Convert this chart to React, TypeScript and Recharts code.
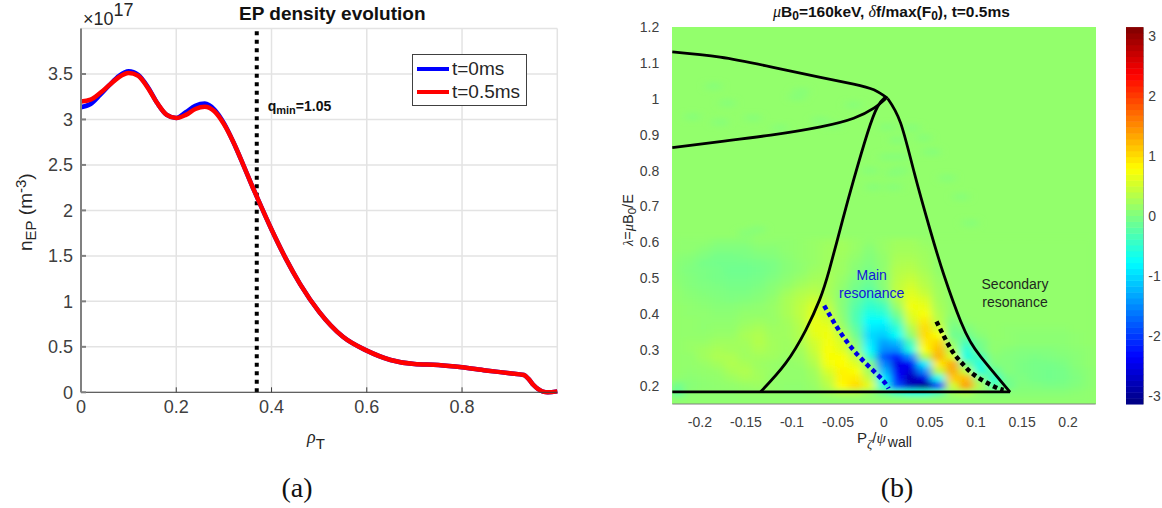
import React from 'react'
import {
  LineChart, Line, ScatterChart, Scatter, XAxis, YAxis, CartesianGrid, Legend,
} from 'recharts'

// panel (a): EP density profile, units of 1e17 m^-3
const rhoT = [0, .02, .04, .06, .08, .1, .12, .14, .16, .18, .2, .22, .24, .26, .28, .3, .32, .34, .36, .37, .4, .43, .46, .5, .55, .6, .65, .7, .75, .8, .85, .9, .93, .94, .95, .96, .97, .98, 1]
const densT0 = [3.135, 3.17, 3.27, 3.38, 3.48, 3.53, 3.49, 3.36, 3.18, 3.05, 3.015, 3.08, 3.15, 3.175, 3.11, 2.96, 2.75, 2.51, 2.26, 2.14, 1.79, 1.47, 1.19, .885, .61, .458, .355, .31, .3, .275, .24, .21, .19, .145, .08, .035, .007, 0, .01]
const densT05 = [3.197, 3.217, 3.29, 3.38, 3.467, 3.51, 3.48, 3.35, 3.18, 3.05, 3.015, 3.05, 3.115, 3.14, 3.09, 2.95, 2.75, 2.51, 2.26, 2.14, 1.79, 1.47, 1.19, .885, .61, .458, .355, .31, .3, .275, .24, .21, .19, .145, .08, .035, .007, 0, .01]
const qminRho = [.369, .369]
const qminDens = [0, 4]
const densXTicks = [0, .2, .4, .6, .8]
const densYTicks = [0, .5, 1, 1.5, 2, 2.5, 3, 3.5]
const legendNames = ['t=0ms', 't=0.5ms']

// panel (b): delta f map, rows top to bottom, lower part of the plane
const heatXs = [-.225, -.21, -.195, -.18, -.165, -.15, -.135, -.12, -.105, -.09, -.075, -.06, -.045, -.03, -.015, 0, .015, .03, .045, .06, .075, .09, .105, .12, .135, .15, .165, .18, .195, .21, .225]
const heatYs = [.6, .58, .56, .54, .52, .5, .48, .46, .44, .42, .4, .38, .36, .34, .32, .3, .28, .26, .24, .22, .2, .18, .16]
const heatRows = [
  [.1, .1, .1, .05, .05, .05, .1, .1, .1, .12, .15, .18, .2, .15, .1, .15, .2, .2, .15, .12, .12, .12, .12, .12, .12, .12, .12, .12, .12, .12, .12],
  [.1, .1, .05, 0, 0, 0, .05, .05, .1, .12, .15, .2, .22, .15, .05, .15, .22, .22, .18, .12, .12, .12, .12, .12, .12, .12, .12, .12, .12, .12, .12],
  [.08, .05, 0, -.05, -.05, -.03, 0, .03, .08, .12, .15, .2, .2, .12, .02, .12, .25, .25, .2, .12, .12, .12, .12, .12, .12, .12, .12, .12, .12, .12, .12],
  [.05, .02, -.05, -.08, -.08, -.08, -.05, -.03, .05, .1, .15, .2, .18, .08, 0, .1, .28, .3, .22, .12, .12, .12, .12, .12, .12, .12, .12, .12, .12, .12, .12],
  [.05, 0, -.03, -.05, -.1, -.1, -.08, -.03, .05, .1, .18, .22, .18, .05, -.05, .1, .32, .35, .25, .12, .12, .12, .12, .12, .12, .12, .12, .12, .12, .12, .12],
  [.06, .02, -.02, -.05, -.08, -.08, -.05, 0, .08, .15, .22, .25, .15, 0, -.1, .05, .35, .42, .3, .15, .12, .12, .12, .12, .12, .12, .12, .12, .12, .12, .12],
  [.08, .03, 0, -.02, -.05, -.05, -.02, .05, .12, .22, .28, .25, .12, -.05, -.15, .05, .38, .5, .35, .18, .12, .12, .12, .12, .12, .12, .12, .12, .12, .12, .12],
  [.1, .05, .02, 0, -.02, -.02, .02, .08, .2, .3, .35, .25, .08, -.1, -.25, 0, .38, .58, .42, .2, .12, .12, .12, .12, .12, .12, .12, .12, .12, .12, .12],
  [.1, .08, .05, .02, 0, .02, .05, .12, .25, .35, .45, .3, .05, -.18, -.38, -.2, .3, .65, .55, .22, .12, .12, .12, .12, .12, .12, .12, .12, .12, .12, .12],
  [.12, .1, .08, .05, .05, .08, .1, .15, .25, .38, .55, .38, .05, -.25, -.5, -.4, .15, .7, .65, .25, .12, .12, .12, .12, .12, .12, .12, .12, .12, .12, .12],
  [.12, .1, .1, .08, .08, .12, .12, .15, .25, .38, .6, .45, .08, -.3, -.65, -.55, -.05, .6, .75, .3, .1, .12, .12, .12, .12, .12, .12, .12, .12, .12, .12],
  [.12, .12, .1, .1, .1, .15, .18, .15, .22, .35, .65, .55, .12, -.3, -.8, -.8, -.3, .5, .9, .35, .02, .1, .12, .12, .12, .12, .12, .12, .12, .12, .12],
  [.12, .12, .1, .12, .12, .2, .25, .18, .2, .32, .65, .65, .2, -.2, -.9, -.95, -.55, .3, 1, .5, -.05, 0, .1, .12, .1, .1, .1, .1, .1, .12, .12],
  [.12, .12, .12, .15, .15, .25, .3, .2, .2, .3, .6, .7, .4, -.1, -1, -1.1, -.75, .1, 1, .75, -.1, -.1, .05, .12, .1, .08, .08, .08, .08, .1, .12],
  [.12, .15, .15, .2, .2, .22, .32, .22, .18, .28, .5, .72, .55, .05, -.9, -1.35, -1.2, -.35, .9, 1.05, .1, -.35, -.05, .1, .1, .08, .08, .08, .08, .1, .12],
  [.12, .15, .2, .25, .22, .2, .28, .22, .18, .22, .45, .75, .6, .15, -.8, -1.5, -1.5, -.6, .75, 1.2, .3, -.55, -.1, .1, .05, .03, .03, .03, .05, .08, .1],
  [.12, .12, .2, .28, .28, .2, .22, .2, .15, .18, .38, .75, .75, .4, -.5, -1.8, -2.2, -1.5, .3, 1.25, .55, -.6, -.35, .05, .03, 0, -.02, 0, .02, .06, .1],
  [.12, .12, .15, .22, .3, .25, .18, .15, .12, .15, .3, .7, .8, .6, .05, -1.5, -2.5, -2.4, -.9, .9, 1.3, -.1, -.6, 0, .03, -.02, -.05, -.05, -.02, .05, .1],
  [.12, .1, .12, .15, .25, .3, .2, .15, .12, .12, .22, .55, .85, .75, .2, -1.2, -2.4, -2.6, -1.5, .4, 1.3, .4, -.55, -.2, .03, -.02, -.05, -.08, -.05, .02, .08],
  [.1, .08, .1, .12, .18, .25, .22, .12, .12, .12, .18, .42, .85, .9, .4, -.9, -2.2, -2.8, -2.5, -.7, 1.1, 1.2, 0, -.5, -.05, 0, -.05, -.08, -.05, 0, .08],
  [-.1, .05, .08, .1, .12, .15, .18, .12, .1, .1, .15, .35, .8, 1, .6, -.6, -1.9, -2.8, -3.1, -2, .5, 1.4, .3, -.3, -.1, .02, 0, -.03, -.02, .02, .08],
  [-.2, .08, .1, .1, .1, .12, .12, .12, .1, .1, .12, .2, .3, .3, .15, -.1, -.4, -.6, -.6, -.3, .2, .3, .1, .05, .05, .05, .05, .05, .05, .08, .1],
  [.08, .1, .1, .1, .1, .1, .1, .1, .1, .1, .1, .1, .1, .1, .1, .1, .1, .1, .1, .1, .1, .1, .1, .1, .1, .1, .1, .1, .1, .1, .1],
]
// faint streaks in the upper part of the plane
const streakXs = [-.185, -.094, -.09, -.17, -.208, -.178, -.142, -.113, -.033, -.069, -.055, .004, .029, .05, .011, -.015, .018, -.137, -.149, -.011, .015, .004, .018, .011, .053, .069, .084, .094, .031, .043]
const streakYs = [1.035, 1.005, 1.02, .988, .95, .935, .946, .919, .983, .94, .927, .921, .919, .852, .793, .8, .838, .635, .626, .754, .885, .838, .801, .754, .852, .779, .727, .654, .919, .891]
const streakV = .05

const upperX = [-.23, -.178, -.123, -.069, -.033, -.011, .004]
const upperY = [1.131, 1.116, 1.089, 1.06, 1.041, 1.025, 1.001]
const lowerX = [-.23, -.178, -.123, -.069, -.033, -.011, .002]
const lowerY = [.864, .881, .899, .922, .946, .974, 1.001]
const leftBranchX = [-.134, -.107, -.085, -.07, -.0595, -.045, -.033, -.018, -.007, .002]
const leftBranchY = [.184, .263, .356, .44, .523, .662, .774, .904, .978, 1.006]
const rightBranchX = [.004, .018, .033, .05, .065, .0835, .094, .105, .137]
const rightBranchY = [1.001, .933, .793, .636, .51, .379, .323, .282, .183]
const floorX = [-.23, .137]
const floorY = [.184, .184]
const mainResX = [-.065, -.036, -.005, .005]
const mainResY = [.424, .309, .226, .193]
const secResX = [.057, .073, .085, .098, .12, .13]
const secResY = [.38, .302, .263, .231, .198, .189]

const mapXTicks = [-.2, -.15, -.1, -.05, 0, .05, .1, .15, .2]
const mapYTicks = [.2, .3, .4, .5, .6, .7, .8, .9, 1, 1.1, 1.2]
const cbarTicks = [-3, -2, -1, 0, 1, 2, 3]
const cbarMax = 3.14
const cbarSteps = 64

const zip = (xs: number[], ys: number[]) => xs.map((x, i) => ({ x, y: ys[i] }))
const channel = (t: number) => Math.round(255 * Math.max(0, Math.min(1, 1.5 - Math.abs(4 * t))))
// jet colormap
const jet = (v: number) => {
  const t = (v + cbarMax) / (2 * cbarMax)
  return `rgb(${channel(t - .75)},${channel(t - .5)},${channel(t - .25)})`
}

const heatCells = [
  ...heatRows.flatMap((row, i) => row.map((v, j) => ({ x: heatXs[j], y: heatYs[i], v }))),
  ...streakXs.map((x, i) => ({ x, y: streakYs[i], v: streakV })),
]
const densT0Data = zip(rhoT, densT0)
const densT05Data = zip(rhoT, densT05)
const cbarStep = (2 * cbarMax) / cbarSteps
const cbarCells = Array.from({ length: cbarSteps }, (_, i) => {
  const y = -cbarMax + (i + .5) * cbarStep
  return { x: .5, y, v: y }
})

const SANS = 'Helvetica, "Liberation Sans", Arial, sans-serif'
const SERIF = '"Liberation Serif", serif'
const TICK = '#404040'
const MAP = { left: 672.3, top: 27, width: 423.4, height: 377 }
const cellW = (.015 / .46) * MAP.width + 1
const cellH = (.02 / 1.05) * MAP.height + 1
const CBAR = { width: 17.3, height: 377 }

const layer: React.CSSProperties = { position: 'absolute', left: 0, top: 0 }
const noLabel = () => ''

function HeatCell(props: any) {
  const { cx, cy, payload } = props
  return <rect x={cx - cellW / 2} y={cy - cellH / 2} width={cellW} height={cellH} fill={jet(payload.v)} />
}

function BandCell(props: any) {
  const { cx, cy, payload } = props
  const h = CBAR.height / cbarSteps + .5
  return <rect x={cx - CBAR.width / 2} y={cy - h / 2} width={CBAR.width} height={h} fill={jet(payload.v)} />
}

function DensityLegend({ payload }: any) {
  const items = legendNames.map((n) => payload.find((p: any) => p.value === n)).filter(Boolean)
  return (
    <div style={{ boxSizing: 'border-box', width: 115, height: 52, border: '1px solid #404040', background: '#fff', padding: '3px 4px' }}>
      {items.map((p: any) => (
        <div key={p.value} style={{ display: 'flex', alignItems: 'center', height: 22.5, fontFamily: SANS, fontSize: 19, color: '#262626' }}>
          <span style={{ display: 'inline-block', width: 32, height: 4, background: p.color, marginRight: 3 }} />
          {p.value}
        </div>
      ))}
    </div>
  )
}

function DensityPanel() {
  return (
    <div style={layer}>
      <LineChart width={1162} height={508} margin={{ left: 0, top: 28.5, right: 604.7, bottom: 75.7 }}>
        <CartesianGrid stroke="#e3e3e3" strokeWidth={1.5} />
        <XAxis dataKey="x" type="number" domain={[0, 1]} ticks={densXTicks} interval={0} height={40} tickSize={-5} tickMargin={13}
          stroke="#404040" tick={{ fill: TICK, fontSize: 18, fontFamily: SANS }} />
        <XAxis xAxisId="top" dataKey="x" type="number" domain={[0, 1]} ticks={densXTicks} interval={0} orientation="top" height={0} tickSize={-5}
          stroke="#404040" tickFormatter={noLabel} />
        <YAxis dataKey="y" type="number" domain={[0, 4]} ticks={densYTicks} interval={0} width={81} tickSize={-5} tickMargin={13}
          stroke="#808080" strokeWidth={2} tick={{ fill: TICK, fontSize: 18, fontFamily: SANS }} />
        <YAxis yAxisId="right" dataKey="y" type="number" domain={[0, 4]} ticks={densYTicks} interval={0} orientation="right" width={0} tickSize={-5}
          stroke="#606060" tickFormatter={noLabel} />
        <Line xAxisId="top" yAxisId="right" data={densT05Data} dataKey="y" stroke="none" dot={false} isAnimationActive={false} legendType="none" />
        <Line data={zip(qminRho, qminDens)} dataKey="y" stroke="#000" strokeWidth={4} strokeDasharray="4 4.5" dot={false} isAnimationActive={false} legendType="none" />
        <Line data={densT0Data} dataKey="y" name="t=0ms" type="monotone" stroke="#0000ff" strokeWidth={4.5} dot={false} isAnimationActive={false} />
        <Line data={densT05Data} dataKey="y" name="t=0.5ms" type="monotone" stroke="#ff0000" strokeWidth={4.5} dot={false} isAnimationActive={false} />
        <Legend layout="horizontal" verticalAlign="middle" content={<DensityLegend />} wrapperStyle={{ position: 'absolute', left: 412, top: 54, width: 115, bottom: 'auto' }} />
      </LineChart>
    </div>
  )
}

function HeatLayer() {
  return (
    <div style={{ position: 'absolute', left: MAP.left, top: MAP.top, width: MAP.width, height: MAP.height, overflow: 'hidden', background: jet(.12) }}>
      <svg width={0} height={0} style={{ position: 'absolute' }}>
        <filter id="heatBlur" x="-5%" y="-5%" width="110%" height="110%">
          <feGaussianBlur stdDeviation="4.5 2.5" />
        </filter>
      </svg>
      <div style={{ filter: 'url(#heatBlur)' }}>
        <ScatterChart width={MAP.width} height={MAP.height} margin={{ left: 0, top: 0, right: 0, bottom: 0 }}>
          <XAxis dataKey="x" type="number" domain={[-.23, .23]} hide />
          <YAxis dataKey="y" type="number" domain={[.15, 1.2]} hide />
          <Scatter data={heatCells} shape={HeatCell} isAnimationActive={false} />
        </ScatterChart>
      </div>
    </div>
  )
}

function MapCurves() {
  const curve = { dataKey: 'y', dot: false, isAnimationActive: false, legendType: 'none' as const }
  return (
    <div style={layer}>
      <LineChart width={1162} height={508} margin={{ left: 572.3, top: 27, right: 66.3, bottom: 64 }}>
        <XAxis dataKey="x" type="number" domain={[-.23, .23]} ticks={mapXTicks} interval={0} height={40} tickLine={false} tickMargin={7}
          stroke="#808080" tick={{ fill: TICK, fontSize: 14, fontFamily: SANS }} />
        <YAxis dataKey="y" type="number" domain={[.15, 1.2]} ticks={mapYTicks} interval={0} width={100} tickLine={false} tickMargin={7} axisLine={false}
          tick={{ fill: TICK, fontSize: 14, fontFamily: SANS }} />
        <Line {...curve} data={zip(upperX, upperY)} type="natural" stroke="#000" strokeWidth={2.8} />
        <Line {...curve} data={zip(lowerX, lowerY)} type="natural" stroke="#000" strokeWidth={2.8} />
        <Line {...curve} data={zip(leftBranchX, leftBranchY)} type="natural" stroke="#000" strokeWidth={2.8} />
        <Line {...curve} data={zip(rightBranchX, rightBranchY)} type="natural" stroke="#000" strokeWidth={2.8} />
        <Line {...curve} data={zip(floorX, floorY)} stroke="#000" strokeWidth={2.8} />
        <Line {...curve} data={zip(mainResX, mainResY)} type="natural" stroke="#0000e6" strokeWidth={4.5} strokeDasharray="4.5 3.5" />
        <Line {...curve} data={zip(secResX, secResY)} type="natural" stroke="#000" strokeWidth={4.5} strokeDasharray="4.5 3.5" />
      </LineChart>
    </div>
  )
}

function Colorbar() {
  return (
    <div style={{ position: 'absolute', left: 1125.7, top: 0 }}>
      <ScatterChart width={36.3} height={508} margin={{ left: 0, top: 27.3, right: 0, bottom: 103.7 }}>
        <XAxis dataKey="x" type="number" domain={[0, 1]} hide />
        <YAxis dataKey="y" type="number" orientation="right" domain={[-cbarMax, cbarMax]} ticks={cbarTicks} interval={0} width={19} tickSize={-3} tickMargin={8}
          stroke="#808080" tick={{ fill: TICK, fontSize: 14, fontFamily: SANS }} />
        <Scatter data={cbarCells} shape={BandCell} isAnimationActive={false} />
      </ScatterChart>
    </div>
  )
}

function Annotations() {
  const text = { fontFamily: SANS, fill: '#262626' }
  return (
    <svg width={1162} height={508} style={layer}>
      <text x={83} y={25} {...text} fontSize={18}>×10<tspan dy={-9.5}>17</tspan></text>
      <text x={239} y={20} fontFamily={SANS} fontWeight="bold" fontSize={19} fill="#111">EP density evolution</text>
      <text x={267.7} y={111} fontFamily={SANS} fontWeight="bold" fontSize={14} fill="#111">q<tspan fontSize={11} dy={3}>min</tspan><tspan dy={-3}>=1.05</tspan></text>
      <text transform="translate(32 251) rotate(-90)" {...text} fontSize={19}>n<tspan fontSize={15} dy={4}>EP</tspan><tspan dy={-4}> (m</tspan><tspan fontSize={15} dy={-6}>-3</tspan><tspan dy={6}>)</tspan></text>
      <text x={307} y={443} fontFamily={SERIF} fontStyle="italic" fontSize={18} fill="#262626">ρ<tspan fontFamily={SANS} fontStyle="normal" fontSize={15} dy={6}>T</tspan></text>
      <text x={297} y={497} fontFamily={SERIF} fontSize={28} fill="#111" textAnchor="middle">(a)</text>

      <text x={773} y={17} fontFamily={SANS} fontWeight="bold" fontSize={15.5} fill="#111"><tspan fontFamily={SERIF} fontStyle="italic" fontWeight="normal" fontSize={16}>μ</tspan>B<tspan fontSize={12} dy={3}>0</tspan><tspan dy={-3}>=160keV, </tspan><tspan fontFamily={SERIF} fontStyle="italic" fontWeight="normal" fontSize={16}>δ</tspan>f/max(F<tspan fontSize={12} dy={3}>0</tspan><tspan dy={-3}>), t=0.5ms</tspan></text>
      <text transform="translate(633 246) rotate(-90)" {...text} fontSize={14.5}><tspan fontFamily={SERIF} fontStyle="italic">λ</tspan>=<tspan fontFamily={SERIF} fontStyle="italic">μ</tspan>B<tspan fontSize={11.5} dy={3}>0</tspan><tspan dy={-3}>/E</tspan></text>
      <text x={857} y={443} {...text} fontSize={15}>P<tspan fontFamily={SERIF} fontStyle="italic" fontSize={13} dy={5}>ζ</tspan><tspan fontFamily={SANS} dy={-5}>/</tspan><tspan fontFamily={SERIF} fontStyle="italic">ψ</tspan><tspan fontSize={14} dx={2} dy={4}>wall</tspan></text>
      <text x={871.7} y={280} fontFamily={SANS} fontSize={14} fill="#1414d8" textAnchor="middle">Main</text>
      <text x={871.7} y={297.7} fontFamily={SANS} fontSize={14} fill="#1414d8" textAnchor="middle">resonance</text>
      <text x={1015} y={289.3} fontFamily={SANS} fontSize={14} fill="#1e2a1e" textAnchor="middle">Secondary</text>
      <text x={1015} y={306.7} fontFamily={SANS} fontSize={14} fill="#1e2a1e" textAnchor="middle">resonance</text>
      <text x={897} y={497} fontFamily={SERIF} fontSize={28} fill="#111" textAnchor="middle">(b)</text>
    </svg>
  )
}

export default function App() {
  return (
    <div style={{ position: 'absolute', left: 0, top: 0, width: 1162, height: 508, background: '#fff', overflow: 'hidden' }}>
      <DensityPanel />
      <HeatLayer />
      <MapCurves />
      <Colorbar />
      <Annotations />
    </div>
  )
}
